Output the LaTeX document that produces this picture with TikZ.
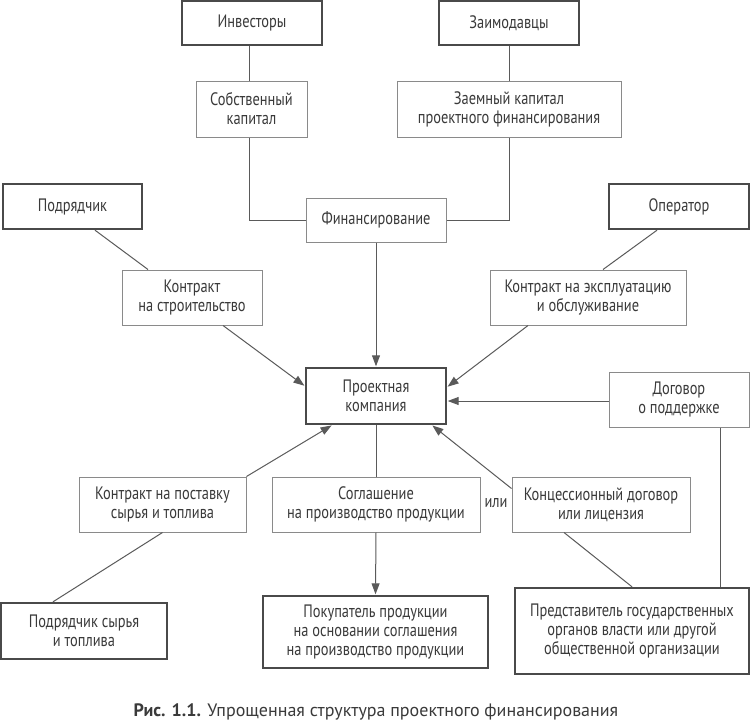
\documentclass[tikz,border=0pt]{standalone}
\usepackage{fontspec}
\setmainfont{PT Sans}
\newfontfamily\boxfont{PT Sans}[FakeStretch=0.8]
\newfontfamily\capfont{PT Sans}
\usetikzlibrary{arrows.meta,calc}
\definecolor{thickc}{HTML}{4A4A4A}
\definecolor{thinc}{HTML}{8A8A8A}
\definecolor{linec}{HTML}{5A5A5A}
\definecolor{txtc}{HTML}{3A3A3A}
\tikzset{
  basebox/.style={rectangle, inner sep=0pt, align=center, text=txtc,
    font=\boxfont\fontsize{18}{19}\selectfont},
  thickbox/.style={basebox, draw=thickc, line width=2.4pt},
  thinbox/.style={basebox, draw=thinc, line width=1pt},
  conn/.style={draw=linec, line width=1pt},
  arr/.style={conn, -{Triangle[length=11pt,width=8pt]}, shorten >=0.5pt},
}
\begin{document}
\begin{tikzpicture}[x=1pt,y=-1pt]
\useasboundingbox[fill=white] (0,0) rectangle (750,723);
% boxes
\node[thickbox, minimum width=140pt, minimum height=44pt] (inv) at (252,23) {Инвесторы};
\node[thickbox, minimum width=140pt, minimum height=44pt] (zaim) at (509,23) {Заимодавцы};
\node[thinbox, minimum width=111pt, minimum height=56pt] (sob) at (251.5,109) {Собственный\\капитал};
\node[thinbox, minimum width=224pt, minimum height=56pt] (zaem) at (509,109) {Заемный капитал\\проектного финансирования};
\node[thinbox, minimum width=140pt, minimum height=44pt] (fin) at (376,220) {Финансирование};
\node[thickbox, minimum width=139pt, minimum height=45pt] (podr) at (72.5,206.5) {Подрядчик};
\node[thickbox, minimum width=140pt, minimum height=45pt] (oper) at (679,206.5) {Оператор};
\node[thinbox, minimum width=140pt, minimum height=55pt] (kstr) at (192,297.5) {Контракт\\на строительство};
\node[thinbox, minimum width=196pt, minimum height=55pt] (kexp) at (588,297.5) {Контракт на эксплуатацию\\и обслуживание};
\node[thickbox, minimum width=140pt, minimum height=56pt] (proj) at (376,396) {Проектная\\компания};
\node[thinbox, minimum width=140pt, minimum height=55pt] (dog) at (679,399.5) {Договор\\о поддержке};
\node[thinbox, minimum width=167pt, minimum height=55pt] (kpost) at (162.5,504.5) {Контракт на поставку\\сырья и топлива};
\node[thinbox, minimum width=208pt, minimum height=55pt] (sogl) at (376,504.5) {Соглашение\\на производство продукции};
\node[thinbox, minimum width=178pt, minimum height=55pt] (konc) at (601,504.5) {Концессионный договор\\или лицензия};
\node[thickbox, minimum width=225pt, minimum height=72pt] (pokup) at (375.5,632) {Покупатель продукции\\на основании соглашения\\на производство продукции};
\node[thickbox, minimum width=166pt, minimum height=56pt] (podrs) at (84,631) {Подрядчик сырья\\и топлива};
\node[thickbox, minimum width=234pt, minimum height=86pt] (pred) at (632,631) {Представитель государственных\\органов власти или другой\\общественной организации};
\node[basebox] (ili) at (496,503) {или};
% connectors
\draw[conn] (sob.north -| 249.5,0) -- (inv.south -| 249.5,0);
\draw[conn] (zaim.south) -- (zaem.north);
\draw[conn] ([xshift=-2pt]sob.south) |- (fin.west);
\draw[conn] (zaem.south) |- (fin.east);
\draw[arr] (fin.south) -- (proj.north);
\draw[conn] ([xshift=22.5pt]podr.south) -- ([xshift=-44pt]kstr.north);
\draw[arr] ([xshift=31pt]kstr.south) -- ([yshift=10pt]proj.west);
\draw[conn] ([xshift=-22pt]oper.south) -- ([xshift=15pt]kexp.north);
\draw[arr] ([xshift=-60pt]kexp.south) -- ([yshift=9pt]proj.east);
\draw[arr] ([yshift=-1.5pt]dog.west) -- ([yshift=-1.5pt]dog.west -| proj.east);
\draw[conn] ([xshift=41pt]dog.south) -- ([xshift=41pt]dog.south |- pred.north);
\draw[arr] (kpost.north east) -- ([xshift=-44pt]proj.south);
\draw[conn] (proj.south) -- (sogl.north);
\draw[arr] (sogl.south) -- (pokup.north);
\draw[arr] ([yshift=-12pt]konc.north west) -- ([xshift=56pt]proj.south);
\draw[conn] ([xshift=-37pt]konc.south) -- (pred.north);
\draw[conn] ([xshift=-31pt]podrs.north) -- (kpost.south);
% caption
\node[text=txtc, font=\capfont\fontsize{18}{20}\selectfont, anchor=center] (cap) at (376,712) {\textbf{Рис. 1.1.} Упрощенная структура проектного финансирования};
\end{tikzpicture}
\end{document}
